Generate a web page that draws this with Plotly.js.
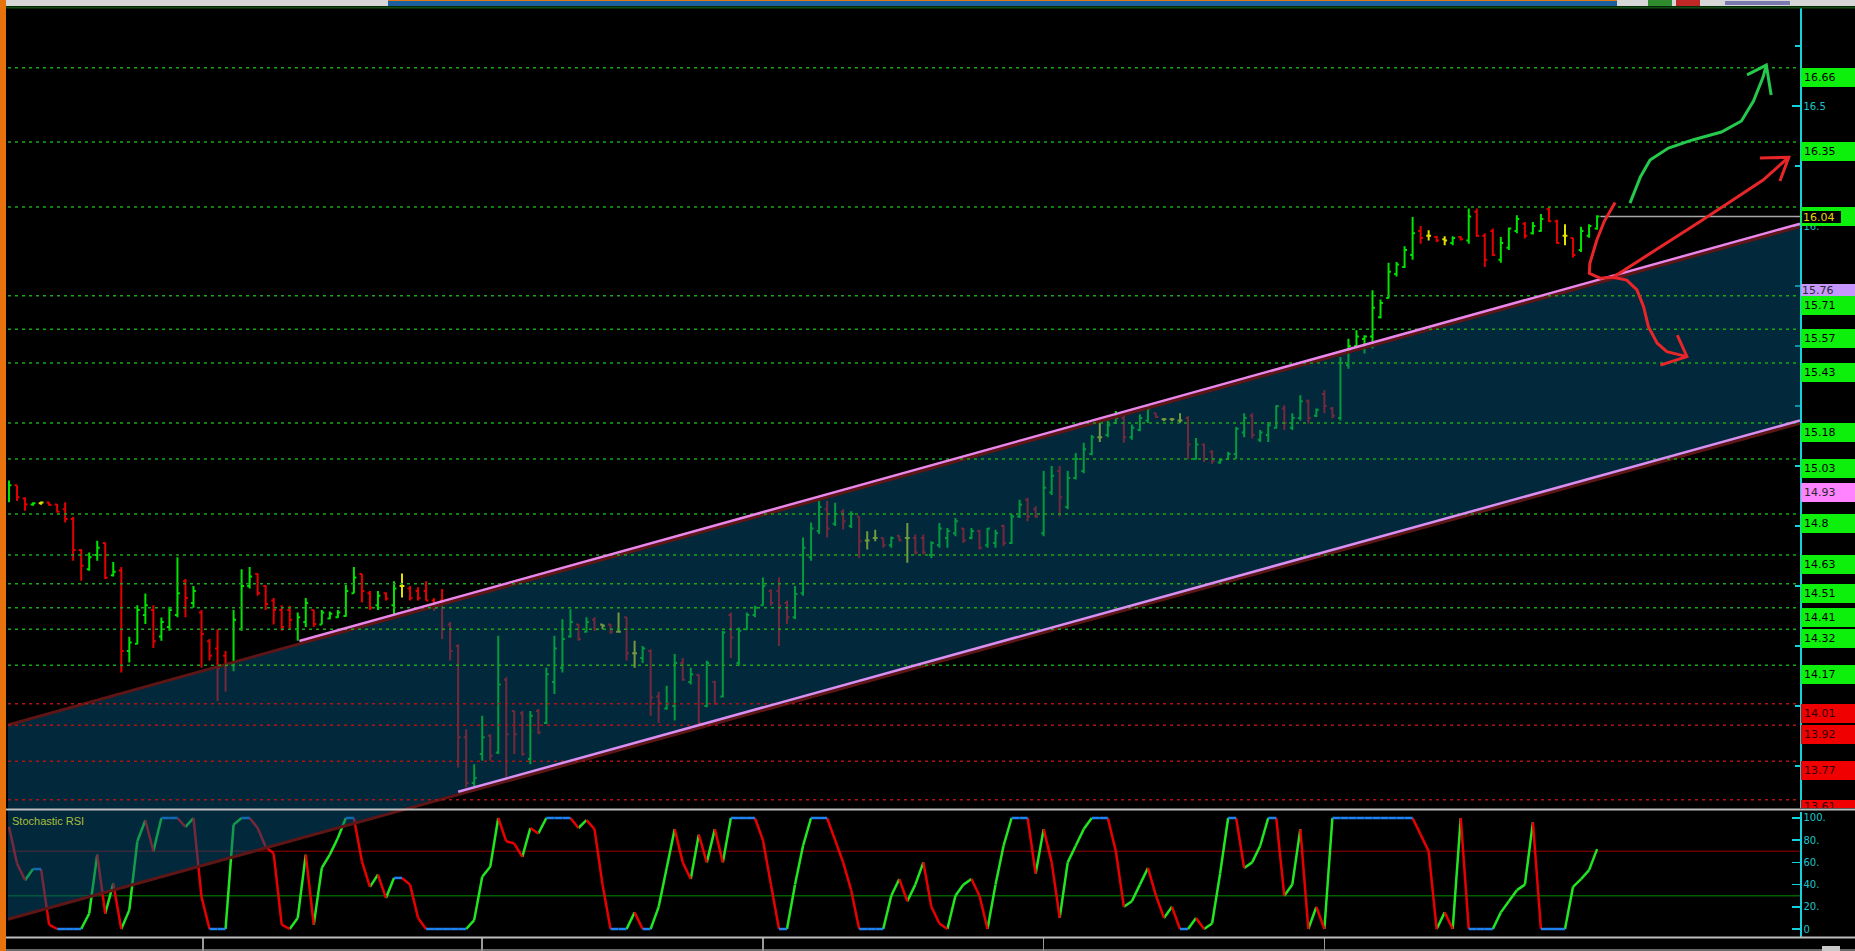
<!DOCTYPE html>
<html><head><meta charset="utf-8">
<script src="https://cdn.plot.ly/plotly-3.0.1.min.js"></script>
<style>html,body{margin:0;padding:0;background:#000;overflow:hidden}#chart{width:1855px;height:951px}</style>
</head><body><div id="chart"></div>
<script>
// ---------------- DATA ----------------
const barOpen = [14.87,14.92,14.865,14.84,14.845,14.848,14.84,14.82,14.78,14.65,
14.57,14.63,14.68,14.545,14.565,14.23,14.26,14.38,14.40,14.29,
14.33,14.38,14.52,14.43,14.39,14.27,14.24,14.21,14.17,14.32,
14.50,14.55,14.50,14.44,14.40,14.40,14.32,14.35,14.40,14.34,
14.365,14.37,14.375,14.47,14.55,14.47,14.42,14.47,14.42,14.50,
14.49,14.48,14.48,14.44,14.44,14.34,14.25,13.87,13.68,13.80,
13.876,13.807,14.11,13.98,13.97,13.78,13.98,13.93,14.10,14.16,
14.29,14.34,14.31,14.36,14.34,14.34,14.31,14.37,14.22,14.20,
14.23,14.04,13.99,14.00,14.18,14.10,14.13,14.00,14.10,14.04,
14.38,14.18,14.32,14.38,14.42,14.48,14.48,14.43,14.37,14.47,
14.62,14.73,14.82,14.76,14.81,14.75,14.79,14.69,14.70,14.70,
14.67,14.71,14.70,14.70,14.70,14.63,14.67,14.70,14.72,14.74,
14.70,14.73,14.67,14.68,14.75,14.68,14.79,14.86,14.82,14.72,
14.89,14.98,14.83,14.95,14.98,15.05,15.12,15.13,15.18,15.20,
15.12,15.15,15.19,15.22,15.195,15.195,15.19,15.20,15.03,15.09,
15.06,15.015,15.03,15.05,15.14,15.21,15.11,15.13,15.16,15.24,
15.16,15.20,15.27,15.21,15.30,15.24,15.20,15.42,15.50,15.53,
15.54,15.62,15.70,15.80,15.83,15.88,15.98,15.96,15.955,15.945,
15.93,15.955,15.94,16.06,15.96,15.98,15.86,15.91,15.98,16.01,
15.97,15.98,16.07,16.02,15.96,15.95,15.90,15.96,15.99];
const barHigh = [14.94,14.92,14.87,14.849,14.853,14.849,14.842,14.849,14.789,14.654,
14.64,14.689,14.682,14.60,14.58,14.289,14.42,14.469,14.42,14.369,
14.414,14.62,14.53,14.50,14.40,14.28,14.32,14.23,14.40,14.57,
14.58,14.553,14.505,14.45,14.42,14.418,14.39,14.45,14.40,14.40,
14.394,14.40,14.505,14.58,14.55,14.48,14.48,14.474,14.52,14.553,
14.50,14.495,14.52,14.45,14.488,14.35,14.258,13.904,13.758,13.96,
13.883,14.293,14.12,13.98,13.98,13.98,13.988,14.16,14.293,14.362,
14.404,14.342,14.37,14.37,14.342,14.342,14.39,14.37,14.272,14.25,
14.237,14.06,14.085,14.217,14.20,14.16,14.133,14.189,14.106,14.314,
14.39,14.328,14.39,14.418,14.536,14.487,14.536,14.44,14.50,14.703,
14.765,14.856,14.856,14.847,14.82,14.812,14.79,14.729,14.735,14.70,
14.707,14.71,14.763,14.715,14.715,14.687,14.763,14.742,14.784,14.742,
14.742,14.735,14.742,14.735,14.756,14.80,14.86,14.868,14.833,14.98,
15.00,15.00,14.98,15.055,15.097,15.13,15.18,15.19,15.23,15.215,
15.173,15.215,15.256,15.22,15.20,15.20,15.22,15.208,15.117,15.094,
15.066,15.03,15.06,15.163,15.22,15.22,15.15,15.184,15.254,15.254,
15.22,15.295,15.277,15.24,15.316,15.246,15.455,15.531,15.566,15.545,
15.733,15.694,15.847,15.85,15.916,16.038,16.00,15.983,15.96,15.958,
15.958,15.958,16.073,16.073,15.97,15.99,15.955,15.994,16.045,16.017,
16.017,16.05,16.08,16.027,16.008,15.952,15.997,16.008,16.045];
const barLow = [14.849,14.855,14.814,14.835,14.839,14.835,14.807,14.765,14.606,14.522,
14.564,14.606,14.53,14.54,14.14,14.182,14.258,14.342,14.242,14.272,
14.314,14.37,14.37,14.41,14.16,14.19,14.02,14.06,14.145,14.314,
14.49,14.46,14.40,14.34,14.314,14.32,14.272,14.33,14.33,14.34,
14.362,14.367,14.372,14.47,14.432,14.40,14.40,14.44,14.383,14.453,
14.44,14.44,14.44,14.397,14.28,14.19,13.744,13.661,13.661,13.772,
13.772,13.80,13.703,13.80,13.793,13.758,13.883,13.925,14.05,14.14,
14.286,14.272,14.307,14.314,14.32,14.30,14.307,14.19,14.16,14.18,
13.96,13.93,13.985,13.94,14.106,14.09,13.918,13.995,14.008,14.036,
14.20,14.168,14.317,14.37,14.418,14.418,14.25,14.342,14.362,14.46,
14.606,14.717,14.703,14.75,14.736,14.742,14.617,14.652,14.687,14.66,
14.66,14.687,14.597,14.631,14.631,14.617,14.66,14.66,14.708,14.68,
14.695,14.652,14.66,14.66,14.666,14.675,14.784,14.77,14.784,14.708,
14.88,14.79,14.82,14.944,14.97,15.045,15.10,15.12,15.175,15.097,
15.11,15.145,15.18,15.20,15.187,15.187,15.18,15.027,15.027,15.017,
15.01,15.01,15.025,15.03,15.12,15.115,15.10,15.10,15.156,15.15,
15.15,15.19,15.177,15.205,15.22,15.198,15.19,15.406,15.497,15.469,
15.49,15.615,15.698,15.79,15.825,15.86,15.927,15.94,15.934,15.92,
15.92,15.94,15.927,15.955,15.83,15.875,15.847,15.90,15.97,15.948,
15.965,15.976,16.017,15.927,15.92,15.869,15.892,15.952,15.985];
const barClose = [14.92,14.87,14.84,14.845,14.848,14.838,14.81,14.78,14.65,14.585,
14.62,14.66,14.535,14.56,14.23,14.265,14.40,14.42,14.27,14.35,
14.40,14.47,14.45,14.48,14.30,14.21,14.16,14.17,14.36,14.50,
14.54,14.47,14.425,14.40,14.33,14.36,14.37,14.43,14.342,14.39,
14.385,14.39,14.48,14.536,14.48,14.41,14.46,14.448,14.49,14.50,
14.45,14.45,14.44,14.41,14.32,14.23,13.87,13.68,13.70,13.87,
13.793,14.09,13.883,13.883,13.80,13.96,13.89,14.133,14.24,14.28,
14.35,14.28,14.35,14.32,14.335,14.31,14.31,14.22,14.22,14.24,
14.036,14.015,14.01,14.18,14.11,14.133,13.93,14.18,14.01,14.307,
14.286,14.314,14.38,14.41,14.50,14.43,14.418,14.37,14.467,14.66,
14.74,14.83,14.74,14.80,14.77,14.80,14.687,14.69,14.70,14.67,
14.70,14.69,14.70,14.64,14.64,14.68,14.74,14.73,14.77,14.69,
14.73,14.66,14.74,14.72,14.68,14.79,14.84,14.79,14.79,14.91,
14.96,14.87,14.95,15.03,15.07,15.12,15.12,15.17,15.20,15.12,
15.16,15.20,15.24,15.205,15.195,15.195,15.19,15.09,15.09,15.03,
15.02,15.025,15.05,15.156,15.20,15.13,15.14,15.17,15.25,15.18,
15.20,15.27,15.20,15.235,15.25,15.21,15.43,15.50,15.54,15.54,
15.66,15.68,15.81,15.84,15.90,15.97,15.95,15.96,15.94,15.94,
15.95,15.945,16.04,15.96,15.86,15.88,15.93,15.99,16.03,15.96,
16.00,16.03,16.02,15.93,15.96,15.88,15.98,16.00,16.04];
// bar colour class: g = green, r = red, y = yellow
const barClass = ("grrgyrrrrr"+"ggrgrgggrg"+"ggrgrrrrgg"+"grrrrrggrg"+"ggggrrgrgy"+
"rrrrrrrrgg"+"rgrrrgrggg"+"grgryryryg"+"rrggrgrgrg"+"rggggrrrgg"+
"ggrgrgryyr"+"gryrrggggr"+"grggrggrrg"+"grggggyggr"+"gggryyyrgr"+
"rggggrgggr"+"ggrgrrgggg"+"ggggggryry"+"grgrrrgggr"+"ggrryrggg").split('');
const stochK = [92,59,44,54,54,4,0,0,0,0,
14,67,14,41,0,17,79,98,70,100,
100,100,92,100,29,0,0,0,94,100,
100,91,74,68,4,0,10,67,4,55,
67,82,100,100,61,38,49,28,46,46,
40,10,0,0,0,0,0,0,8,47,
56,100,79,77,65,91,86,100,100,100,
100,91,98,90,40,0,0,0,15,0,
0,20,55,90,60,45,85,60,90,60,
100,100,100,100,80,40,0,0,40,75,
100,100,100,80,60,35,0,0,0,0,
30,45,25,40,60,20,5,0,30,40,
45,30,0,40,75,100,100,100,50,90,
60,10,60,75,90,100,100,100,70,20,
25,40,55,30,10,20,0,0,10,0,
5,50,100,100,55,60,75,100,100,30,
40,90,0,20,0,100,100,100,100,100,
100,100,100,100,100,100,85,70,0,15,
0,100,0,0,0,0,15,25,35,40,
96,0,0,0,0,38,45,53,72];
const levelGreen = [16.66,16.35,16.08,15.71,15.57,15.43,15.18,15.03,14.8,14.63,14.51,14.41,14.32,14.17];
const levelRed = [14.01,13.92,13.77,13.61];
const markerPink = 14.93, markerLavender = 15.76;
const lastPrice = 16.04;
// visible price-axis labels (the others sit under the level boxes)
const priceTickVals = [16,16.5];
const priceTickText = ['16.','16.5'];
const priceMinorVals = [13.75,14,14.25,14.5,14.75,15,15.25,15.5,15.75,16.25,16.75];
const stochTickVals = [0,20,40,60,80,100];
const stochTickText = ['0','20.','40.','60.','80.','100.'];
const xTickIdx = [24.2,59,94,129,164];
// trend channel (bar index, price)
const chanUpperX = [36.2,223.3], chanUpperY = [14.271,16.01];
const chanLowerX = [56.0,223.3], chanLowerY = [13.643,15.19];
// hand drawings (bar index, price)
const drawGreen = [[202.1,16.096],[203.4,16.205],[204.6,16.275],[206.9,16.325],[209.9,16.359],[213.5,16.392],[216.0,16.438],[217.5,16.521],[218.7,16.621],[219.1,16.671]];
const drawGreenHead = [[216.7,16.63],[219.1,16.671],[219.7,16.546]];
const drawRedUp = [[200.25,16.098],[198.9,16.02],[197.97,15.942],[197.1,15.845],[197.03,15.803],[198.4,15.783],[200.0,15.787],[203.4,15.86],[210.9,16.02],[218.7,16.192],[221.9,16.287]];
const drawRedUpHead = [[218.3,16.284],[221.9,16.287],[220.8,16.188]];
const drawRedDown = [[200.0,15.787],[201.7,15.775],[202.97,15.734],[203.8,15.664],[204.4,15.581],[205.5,15.512],[206.7,15.477],[209.2,15.456]];
const drawRedDownHead = [[208.0,15.546],[209.2,15.456],[205.9,15.421]];

// ---------------- GEOMETRY ----------------
const W=1855,H=951, M={l:8,r:55,t:8,b:14};
const plotW=W-M.l-M.r, plotH=H-M.t-M.b;
const xRange=[-0.125,223.3];
const yRange=[13.5754,16.9088];
const y2Range=[-7.2,105.4];
const domMain=[(H-M.b-808)/plotH,1];
const domLow=[0,(H-M.b-812)/plotH];
const pxX = px => (px-M.l)/plotW;
const pxY = py => (H-M.b-py)/plotH;
const dX = i => (i-xRange[0])/(xRange[1]-xRange[0]);
const dY = p => domMain[0]+(p-yRange[0])/(yRange[1]-yRange[0])*(domMain[1]-domMain[0]);
const lineAt = (xs,ys,i) => ys[0]+(ys[1]-ys[0])*(i-xs[0])/(xs[1]-xs[0]);

// ---------------- TRACES ----------------
const idx = barOpen.map((_,i)=>i);
function ohlcTrace(cls,color){
  const x=[],o=[],h=[],l=[],c=[];
  idx.forEach(i=>{ if(barClass[i]===cls){x.push(i);o.push(barOpen[i]);h.push(barHigh[i]);l.push(barLow[i]);c.push(barClose[i]);} });
  return {type:'ohlc',x:x,open:o,high:h,low:l,close:c,xaxis:'x',yaxis:'y',tickwidth:0.3,
    increasing:{line:{color:color,width:2}},decreasing:{line:{color:color,width:2}},hoverinfo:'skip',showlegend:false};
}
function stochSeg(kind,color){
  const x=[],y=[];
  for(let i=1;i<stochK.length;i++){
    const d=stochK[i]-stochK[i-1];
    const k=d>0?'up':(d<0?'down':'flat');
    if(k===kind){x.push(i-1,i,null);y.push(stochK[i-1],stochK[i],null);}
  }
  return {type:'scatter',mode:'lines',x:x,y:y,xaxis:'x',yaxis:'y2',line:{color:color,width:2.5},hoverinfo:'skip',showlegend:false};
}
const traces=[
  ohlcTrace('g','#00e400'), ohlcTrace('r','#e40000'), ohlcTrace('y','#e4e000'),
  stochSeg('up','#22e622'), stochSeg('down','#e80000'), stochSeg('flat','#1f82f0')
];

// ---------------- SHAPES ----------------
const shapes=[];
function rectPx(x0,y0,x1,y1,color){shapes.push({type:'rect',xref:'paper',yref:'paper',x0:pxX(x0),x1:pxX(x1),y0:pxY(y0),y1:pxY(y1),fillcolor:color,line:{width:0},layer:'above'});}
function linePx(x0,y0,x1,y1,color,w){shapes.push({type:'line',xref:'paper',yref:'paper',x0:pxX(x0),x1:pxX(x1),y0:pxY(y0),y1:pxY(y1),line:{color:color,width:w},layer:'above'});}
const pathOf = pts => 'M '+pts.map(p=>p[0]+','+p[1]).join(' L ');

// stochastic 70/30 levels
shapes.push({type:'line',xref:'paper',yref:'y2',x0:0,x1:1,y0:70,y1:70,line:{color:'#6a0000',width:1.5},layer:'below'});
shapes.push({type:'line',xref:'paper',yref:'y2',x0:0,x1:1,y0:30,y1:30,line:{color:'#006000',width:1.5},layer:'below'});

// channel fill (spans both panes)
const off=0.012;
const uL=lineAt(chanUpperX,chanUpperY,xRange[0])-off, uR=lineAt(chanUpperX,chanUpperY,xRange[1])-off;
const lL=lineAt(chanLowerX,chanLowerY,xRange[0])-off, lR=lineAt(chanLowerX,chanLowerY,xRange[1])-off;
shapes.push({type:'path',xref:'paper',yref:'paper',layer:'above',
  path:`M ${dX(xRange[0])},${dY(uL)} L ${dX(xRange[1])},${dY(uR)} L ${dX(xRange[1])},${dY(lR)} L ${dX(xRange[0])},${dY(lL)} Z`,
  fillcolor:'rgba(4,80,120,0.5)',line:{width:0}});
shapes.push({type:'line',xref:'paper',yref:'paper',layer:'above',x0:dX(xRange[0]),x1:dX(xRange[1]),y0:dY(uL),y1:dY(uR),line:{color:'#5e1515',width:3}});
shapes.push({type:'line',xref:'paper',yref:'paper',layer:'above',x0:dX(xRange[0]),x1:dX(xRange[1]),y0:dY(lL),y1:dY(lR),line:{color:'#5e1515',width:3}});

// level dotted lines
levelGreen.forEach(v=>shapes.push({type:'line',xref:'paper',yref:'y',x0:0,x1:1,y0:v,y1:v,line:{color:'#1aa51a',width:1.5,dash:'3px,4px'},layer:'above'}));
levelRed.forEach(v=>shapes.push({type:'line',xref:'paper',yref:'y',x0:0,x1:1,y0:v,y1:v,line:{color:'#b01212',width:1.5,dash:'3px,4px'},layer:'above'}));

// channel magenta lines
shapes.push({type:'line',xref:'x',yref:'y',x0:chanUpperX[0],x1:chanUpperX[1],y0:chanUpperY[0],y1:chanUpperY[1],line:{color:'#ea86ea',width:2.5},layer:'above'});
shapes.push({type:'line',xref:'x',yref:'y',x0:chanLowerX[0],x1:chanLowerX[1],y0:chanLowerY[0],y1:chanLowerY[1],line:{color:'#d98ef0',width:2.5},layer:'above'});

// current price line
shapes.push({type:'line',xref:'x',yref:'y',x0:198.4,x1:xRange[1],y0:lastPrice,y1:lastPrice,line:{color:'#a8a8a8',width:1.5},layer:'above'});

// hand drawings
[[drawGreen,'#25c94c'],[drawGreenHead,'#25c94c'],[drawRedUp,'#e8262a'],[drawRedUpHead,'#e8262a'],[drawRedDown,'#e8262a'],[drawRedDownHead,'#e8262a']]
 .forEach(([pts,c])=>shapes.push({type:'path',xref:'x',yref:'y',path:pathOf(pts),line:{color:c,width:3},fillcolor:'rgba(0,0,0,0)',layer:'above'}));

// window chrome
linePx(6,809.5,1855,809.5,'#bdbdbd',2);
linePx(6,937.5,1855,937.5,'#bdbdbd',2);
linePx(6,950,1855,950,'#8c8c8c',1.5);
rectPx(1822,946,1840,951,'#c8c8c8');
rectPx(6,0,1855,6,'#d6d6d6');
rectPx(388,1,1617,6,'#1c5f9e');
rectPx(388,0,1617,1,'#e0781c');
rectPx(1648,0,1672,6,'#2e8b2e');
rectPx(1676,0,1700,6,'#c02828');
rectPx(1725,1,1790,5,'#7a7ab0');
linePx(6,7.5,1855,7.5,'#0f4a0f',2);
rectPx(1801,800,1855,808,'#f00000');
rectPx(0,0,6,951,'#e8730e');

// ---------------- ANNOTATIONS ----------------
const annotations=[];
function box(v,bg,fg,h,pad){
  annotations.push({xref:'paper',yref:'y',x:1,y:v,xanchor:'left',yanchor:'top',xshift:1,showarrow:false,
    text:String(v),align:'left',width:54-2*pad,height:h,borderpad:pad,borderwidth:0,bgcolor:bg,
    font:{family:'DejaVu Sans',size:11,color:fg}});
}
const labelOrder=[16.66,16.35,16.08,markerLavender,15.71,15.57,15.43,15.18,15.03,markerPink,14.8,14.63,14.51,14.41,14.32,14.17,14.01,13.92,13.77];
labelOrder.forEach(v=>{
  if(v===markerLavender) box(v,'#c896ff','#2a2a2a',11,1);
  else if(v===markerPink) box(v,'#ff82ff','#2a2a2a',13,3);
  else if(levelRed.indexOf(v)>=0) box(v,'#f00000','#300000',13,3);
  else box(v,'#0cf00c','#000000',13,3);
});
// bottom red label clipped by pane edge
annotations.push({xref:'paper',yref:'y',x:1,y:levelRed[3],xanchor:'left',yanchor:'top',xshift:4,showarrow:false,
  text:String(levelRed[3]),align:'left',valign:'top',width:50,height:8,borderpad:0,borderwidth:0,
  font:{family:'DejaVu Sans',size:11,color:'#300000'}});
// current price box
annotations.push({xref:'paper',yref:'y',x:1,y:lastPrice,xanchor:'left',yanchor:'middle',xshift:2,showarrow:false,
  text:lastPrice.toFixed(2),align:'left',width:37,height:10,borderpad:1,borderwidth:0,bgcolor:'#000000',
  font:{family:'DejaVu Sans',size:11,color:'#e8d400'}});
annotations.push({xref:'paper',yref:'paper',x:pxX(10),y:pxY(813),xanchor:'left',yanchor:'top',showarrow:false,
  text:'Stochastic RSI',font:{family:'Liberation Sans',size:11,color:'#a9be3c'}});

// ---------------- LAYOUT ----------------
const axisCyan='#14d2dc';
const layout={
  width:W,height:H,margin:{l:M.l,r:M.r,t:M.t,b:M.b,pad:0},
  paper_bgcolor:'#000000',plot_bgcolor:'#000000',showlegend:false,
  font:{family:'DejaVu Sans',size:10,color:'#1cc4c8'},
  xaxis:{domain:[0,1],range:xRange,anchor:'y2',showgrid:false,zeroline:false,showline:false,
    rangeslider:{visible:false},tickmode:'array',tickvals:xTickIdx,ticks:'outside',ticklen:13,tickwidth:1.5,
    tickcolor:'#9a9a9a',showticklabels:false,fixedrange:true},
  yaxis:{domain:domMain,range:yRange,side:'right',anchor:'x',showgrid:false,zeroline:false,
    showline:true,linecolor:axisCyan,linewidth:1.5,ticks:'inside',ticklen:8,tickwidth:1.5,tickcolor:axisCyan,
    tickmode:'array',tickvals:priceTickVals,ticktext:priceTickText,
    tickfont:{family:'DejaVu Sans',size:10,color:'#1cc4c8'},
    minor:{tickmode:'array',tickvals:priceMinorVals,ticks:'inside',ticklen:5,tickwidth:1.5,tickcolor:axisCyan},fixedrange:true},
  yaxis2:{domain:domLow,range:y2Range,side:'right',anchor:'x',showgrid:false,zeroline:false,
    showline:true,linecolor:axisCyan,linewidth:1.5,ticks:'inside',ticklen:8,tickwidth:1.5,tickcolor:axisCyan,
    tickmode:'array',tickvals:stochTickVals,ticktext:stochTickText,
    tickfont:{family:'DejaVu Sans',size:10,color:'#1cc4c8'},fixedrange:true},
  shapes:shapes,annotations:annotations
};
Plotly.newPlot('chart',traces,layout,{displayModeBar:false,staticPlot:true});
</script></body></html>
